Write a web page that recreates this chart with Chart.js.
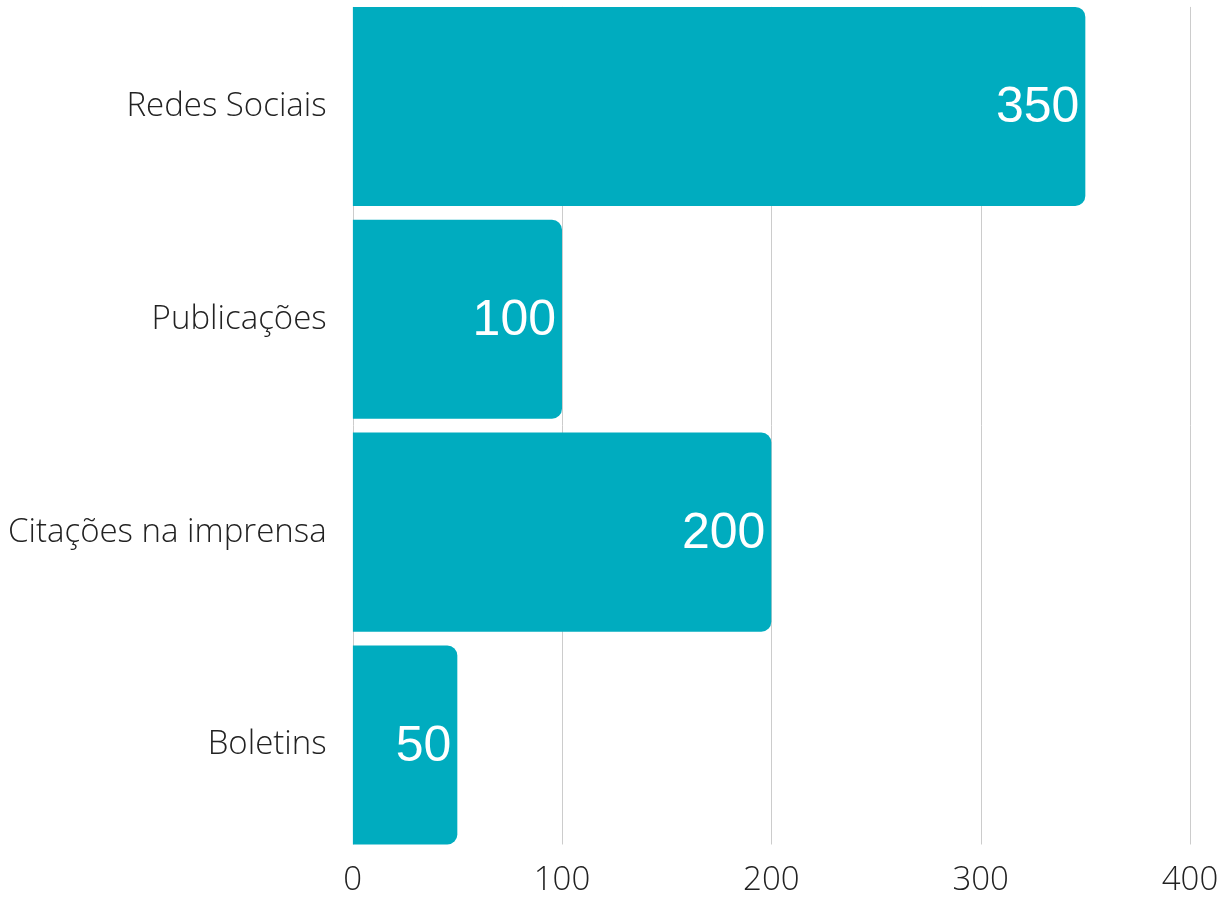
<!DOCTYPE html>
<html>
<head>
<meta charset="utf-8">
<script src="https://cdn.jsdelivr.net/npm/chart.js@4/dist/chart.umd.min.js"></script>
<style>
	html, body { margin: 0; padding: 0; background: #fff; }
	#wrap { width: 1223px; height: 900px; }
</style>
</head>
<body>
<div id="wrap"><canvas id="chart"></canvas></div>
<script>
const categories = ['Redes Sociais', 'Publicações', 'Citações na imprensa', 'Boletins'];
const values = [350, 100, 200, 50];
const tickValues = [0, 100, 200, 300, 400];

// vertical grid lines, only as tall as the bars reach
const barGrid = {
	id: 'barGrid',
	beforeDatasetsDraw(chart) {
		const ctx = chart.ctx;
		const bars = chart.getDatasetMeta(0).data;
		const first = bars[0];
		const last = bars[bars.length - 1];
		const top = first.y - first.height / 2;
		const bottom = last.y + last.height / 2;
		ctx.save();
		ctx.strokeStyle = '#cccccc';
		ctx.lineWidth = 1;
		tickValues.forEach((v) => {
			const x = Math.round(chart.scales.x.getPixelForValue(v)) + 0.5;
			ctx.beginPath();
			ctx.moveTo(x, top);
			ctx.lineTo(x, bottom);
			ctx.stroke();
		});
		ctx.restore();
	}
};

// draw the value inside the end of each bar
const valueLabels = {
	id: 'valueLabels',
	afterDatasetsDraw(chart) {
		const ctx = chart.ctx;
		const meta = chart.getDatasetMeta(0);
		ctx.save();
		ctx.fillStyle = '#ffffff';
		ctx.font = '50px "Liberation Sans", Arial, sans-serif';
		ctx.textAlign = 'right';
		ctx.textBaseline = 'middle';
		meta.data.forEach((bar, i) => {
			ctx.fillText(String(values[i]), bar.x - 6, bar.y + 2);
		});
		ctx.restore();
	}
};

let chartctx = document.querySelector('#chart');
new Chart(chartctx, {
	type: 'bar',
	data: {
		labels: categories,
		datasets: [
			{
				data: values,
				backgroundColor: '#00acbf',
				borderRadius: { topLeft: 0, bottomLeft: 0, topRight: 10, bottomRight: 10 },
				borderSkipped: 'start',
				barPercentage: 0.935,
				categoryPercentage: 1,
			},
		],
	},
	options: {
		indexAxis: 'y',
		responsive: true,
		maintainAspectRatio: false,
		animation: false,
		layout: { padding: { top: 0, right: 33, bottom: 0, left: 8 } },
		plugins: {
			legend: { display: false },
			tooltip: { enabled: false },
		},
		scales: {
			x: {
				min: 0,
				max: 400,
				afterBuildTicks: (axis) => {
					axis.ticks = tickValues.map((v) => ({ value: v }));
				},
				// v4 reserves the tick padding twice, take one back
				afterFit: (scale) => {
					scale.paddingLeft = 0;
					scale.paddingRight = 0;
					scale.height -= 9;
				},
				grid: { display: false, drawTicks: false },
				border: { display: false },
				ticks: {
					padding: 9,
					color: '#222222',
					font: { family: '"Open Sans"', size: 33, weight: '300' },
				},
			},
			y: {
				afterFit: (scale) => {
					scale.paddingTop = 0;
					scale.paddingBottom = 0;
					scale.width -= 26;
				},
				grid: { display: false, drawTicks: false },
				border: { display: false },
				ticks: {
					padding: 26,
					color: '#222222',
					font: { family: '"Open Sans"', size: 33, weight: '300' },
				},
			},
		},
	},
	plugins: [barGrid, valueLabels],
});
</script>
</body>
</html>
